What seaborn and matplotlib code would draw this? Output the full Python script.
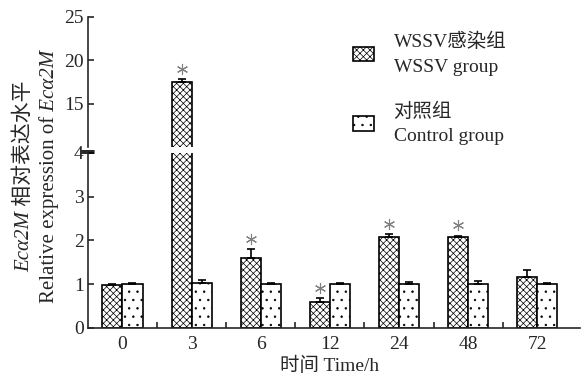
import numpy as np
import pandas as pd
import matplotlib
matplotlib.use('Agg')
import matplotlib.pyplot as plt
import seaborn as sns
from matplotlib.patches import Patch

# 数据
times = ['0', '3', '6', '12', '24', '48', '72']
wssv_mean = [0.97, 17.5, 1.6, 0.6, 2.07, 2.07, 1.17]
wssv_err = [0.03, 0.3, 0.2, 0.08, 0.07, 0.03, 0.16]
ctrl_mean = [1.0, 1.02, 1.0, 1.0, 1.01, 1.0, 1.0]
ctrl_err = [0.03, 0.07, 0.02, 0.02, 0.03, 0.08, 0.03]
signif = [False, True, True, True, True, True, False]
groups = ['WSSV感染组\nWSSV group', '对照组\nControl group']
hatches = ['xxxxx', '..']

sns.set_style('ticks')
plt.rcParams['font.family'] = ['Liberation Serif', 'Noto Sans CJK SC']
plt.rcParams['hatch.linewidth'] = 0.5
plt.rcParams['axes.linewidth'] = 1.2

df = pd.DataFrame({
    'time': times * 2,
    'value': wssv_mean + ctrl_mean,
    'group': [groups[0]] * len(times) + [groups[1]] * len(times),
})
means = [wssv_mean, ctrl_mean]
errs = [wssv_err, ctrl_err]

fig = plt.figure(figsize=(5.82, 3.83), dpi=100)
ax_top = fig.add_axes([0.151, 0.616, 0.846, 0.340])
ax_bot = fig.add_axes([0.151, 0.144, 0.846, 0.457])

for ax in (ax_top, ax_bot):
    sns.barplot(data=df, x='time', y='value', hue='group', order=times,
                hue_order=groups, errorbar=None, width=0.58, dodge=True,
                palette=['white', 'white'], edgecolor='black', linewidth=1.2,
                legend=False, ax=ax)
    bars = list(ax.containers)
    for k, cont in enumerate(bars):
        xs = [p.get_x() + p.get_width() / 2 for p in cont.patches]
        for p in cont.patches:
            p.set_hatch(hatches[k])
        ax.errorbar(xs, means[k], yerr=[np.zeros(len(times)), errs[k]],
                    fmt='none', ecolor='black', elinewidth=1.2, capsize=3, capthick=1.2)
    # 显著性星号
    for i, p in enumerate(bars[0].patches):
        if signif[i]:
            top = wssv_mean[i] + wssv_err[i]
            off = 1.2 if ax is ax_top else 0.24
            ax.plot(p.get_x() + p.get_width() / 2, top + off, marker=(6, 2, 0),
                    color='gray', markersize=8, mew=0.8)
    ax.set_xlim(-0.5, 6.62)
    ax.set_xlabel('')
    ax.set_ylabel('')
    ax.tick_params(axis='y', direction='in', length=4, width=1.2, labelsize=14, pad=3)

ax_top.set_ylim(10, 25)
ax_top.set_yticks([15, 20, 25])
ax_top.set_xticks([])
sns.despine(ax=ax_top, bottom=True)

ax_bot.set_ylim(0, 4)
ax_bot.set_yticks([0, 1, 2, 3, 4])
ax_bot.set_xticks(range(len(times)))
ax_bot.set_xticklabels(times)
ax_bot.set_xticks(np.arange(0.5, 6, 1), minor=True)
ax_bot.tick_params(axis='x', which='major', length=0, labelsize=14, pad=6)
ax_bot.tick_params(axis='x', which='minor', direction='in', length=4, width=1.2)
sns.despine(ax=ax_bot)

# 断轴标记
for yy in (0.998, 1.012):
    ax_bot.plot([-0.012, 0.012], [yy, yy], transform=ax_bot.transAxes,
                color='black', lw=1.2, clip_on=False)

# 纵轴标题：斜体基因名和正体文字分段拼接
renderer = fig.canvas.get_renderer()
H = fig.get_figheight() * fig.dpi


def vertical_line(x, yc, parts, size):
    txts = [fig.text(x, 0, s, rotation=90, style=st, fontsize=size,
                     ha='center', va='bottom') for s, st in parts]
    hs = [t.get_window_extent(renderer).height for t in txts]
    y = yc * H - sum(hs) / 2
    for t, h in zip(txts, hs):
        t.set_y(y / H)
        y += h


vertical_line(0.042, 0.54, [('Ecα2M', 'italic'), (' 相对表达水平', 'normal')], 15)
vertical_line(0.085, 0.54, [('Relative expression of', 'normal'), (' Ecα2M', 'italic')], 15)
fig.text(0.567, 0.045, '时间 Time/h', ha='center', va='center', fontsize=14)

handles = [Patch(facecolor='white', edgecolor='black', hatch=h, linewidth=1.2)
           for h in hatches]
leg = ax_top.legend(handles, groups, loc='upper left', bbox_to_anchor=(0.576, 0.96),
                    bbox_transform=fig.transFigure, frameon=False, fontsize=14,
                    handlelength=1.1, handleheight=0.75, labelspacing=1.35,
                    handletextpad=1.0)
for t in leg.get_texts():
    t.set_linespacing(1.6)

fig.savefig('out.png', dpi=100)
